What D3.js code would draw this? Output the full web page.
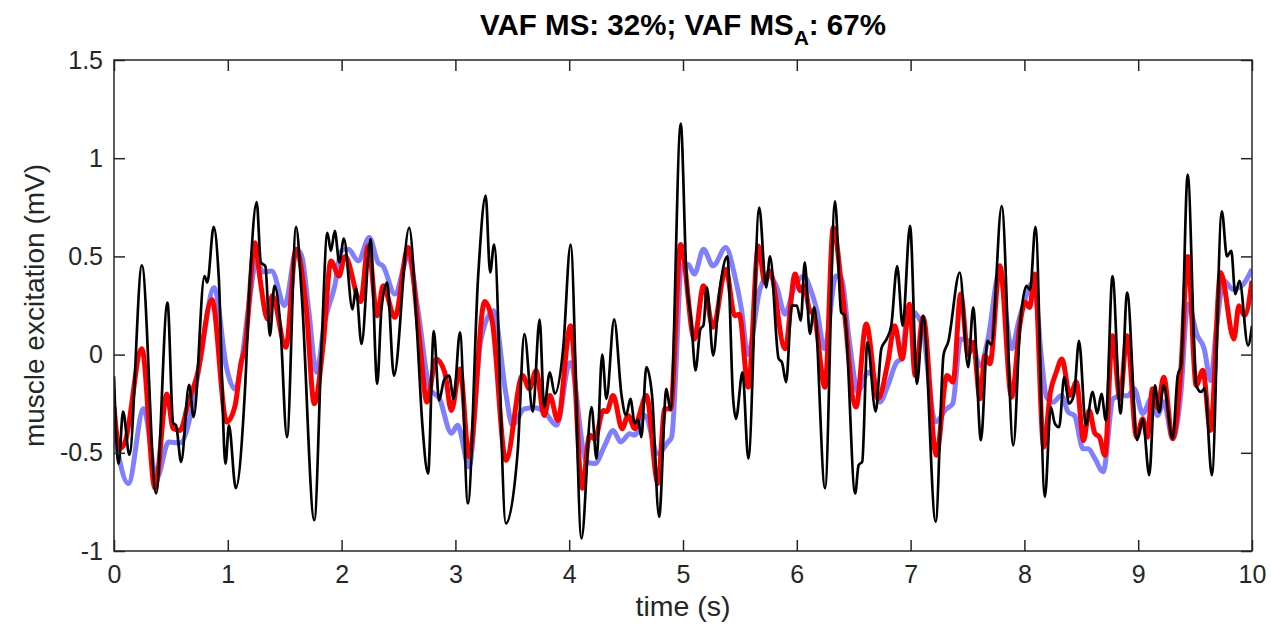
<!DOCTYPE html>
<html>
<head>
<meta charset="utf-8">
<script src="https://d3js.org/d3.v7.min.js"></script>
<style>
  body { margin: 0; background: white; }
  text { font-family: "Liberation Sans", Arial, Helvetica, sans-serif; fill: #262626; }
  .axis path, .axis line { stroke: #262626; stroke-width: 1.5; }
</style>
</head>
<body>
<script>
// tick labels
var xTicks = [0, 1, 2, 3, 4, 5, 6, 7, 8, 9, 10];
var yTicks = [-1, -0.5, 0, 0.5, 1, 1.5];
var yTickLabels = ["-1", "-0.5", "0", "0.5", "1", "1.5"];

// model MS (blue), [time s, excitation mV]
var ms = [[0, -0.394], [0.126, -0.656], [0.26, -0.276], [0.375, -0.63], [0.48, -0.445], [0.58, -0.45],
  [0.685, -0.276], [0.76, -0.02], [0.88, 0.34], [0.99, -0.07], [1.064, -0.175], [1.12, -0.04],
  [1.18, 0.23], [1.254, 0.477], [1.31, 0.42], [1.386, 0.426], [1.5, 0.25], [1.605, 0.536],
  [1.65, 0.5], [1.71, 0.23], [1.78, -0.09], [1.85, 0.164], [1.94, 0.35], [2.0, 0.53], [2.06, 0.536],
  [2.146, 0.477], [2.243, 0.596], [2.32, 0.469], [2.365, 0.45], [2.468, 0.308], [2.585, 0.5],
  [2.67, 0.23], [2.775, -0.174], [2.86, -0.225], [2.965, -0.4], [3.02, -0.36], [3.12, -0.572],
  [3.22, 0.063], [3.334, 0.223], [3.444, -0.2], [3.5, -0.36], [3.606, -0.276], [3.69, -0.27],
  [3.78, -0.29], [3.89, -0.36], [4.006, -0.04], [4.152, -0.546], [4.225, -0.555], [4.313, -0.462],
  [4.386, -0.386], [4.453, -0.445], [4.532, -0.403], [4.576, -0.41], [4.664, -0.31], [4.78, -0.504],
  [4.868, -0.445], [4.9, -0.42], [4.99, 0.45], [5.044, 0.46], [5.1, 0.41], [5.18, 0.536], [5.264, 0.452],
  [5.376, 0.545], [5.455, 0.4], [5.514, 0.23], [5.57, 0.0], [5.676, 0.333], [5.75, 0.4], [5.82, 0.35],
  [5.897, 0.206], [5.97, 0.33], [6.06, 0.4], [6.12, 0.333], [6.18, 0.215], [6.243, 0.03], [6.345, 0.4],
  [6.39, 0.39], [6.463, 0.063], [6.537, -0.19], [6.625, -0.09], [6.67, -0.11], [6.73, -0.242],
  [6.8, -0.157], [6.876, -0.04], [6.92, -0.02], [6.98, 0.23], [7.094, 0.164], [7.218, -0.343],
  [7.315, -0.276], [7.37, -0.25], [7.44, 0.08], [7.535, 0.063], [7.61, -0.056], [7.68, 0.08],
  [7.78, 0.418], [7.89, 0.03], [7.947, 0.164], [8.006, 0.28], [8.06, 0.36], [8.1, 0.3], [8.15, -0.02],
  [8.194, -0.217], [8.25, -0.242], [8.326, -0.208], [8.385, -0.293], [8.44, -0.31], [8.516, -0.48],
  [8.56, -0.48], [8.62, -0.53], [8.692, -0.597], [8.78, -0.225], [8.85, -0.21], [8.91, -0.21],
  [8.965, -0.174], [9.04, -0.3], [9.12, -0.22], [9.17, -0.31], [9.224, -0.24], [9.303, -0.428],
  [9.376, -0.19], [9.435, 0.257], [9.52, 0.096], [9.58, 0.03], [9.635, -0.132], [9.69, 0.15],
  [9.753, 0.376], [9.832, 0.333], [9.91, 0.35], [10, 0.435]];

// model MS_A (red)
var msA = [[0, -0.267], [0.05, -0.48], [0.097, -0.445], [0.245, 0.03], [0.36, -0.68], [0.465, -0.2],
  [0.52, -0.377], [0.58, -0.386], [0.655, -0.24], [0.73, -0.107], [0.86, 0.28], [0.99, -0.343],
  [1.064, -0.26], [1.117, -0.04], [1.15, 0.03], [1.24, 0.57], [1.28, 0.4], [1.35, 0.18], [1.39, 0.3],
  [1.51, 0.037], [1.6, 0.536], [1.69, 0.23], [1.76, -0.25], [1.84, 0.063], [1.906, 0.477],
  [1.977, 0.4], [2.03, 0.5], [2.167, 0.27], [2.234, 0.553], [2.313, 0.198], [2.365, 0.35],
  [2.468, 0.19], [2.585, 0.545], [2.687, 0.063], [2.75, -0.242], [2.83, -0.022], [2.906, -0.09],
  [2.965, -0.284], [3.04, -0.073], [3.12, -0.52], [3.257, 0.27], [3.325, 0.164], [3.444, -0.538],
  [3.59, -0.107], [3.65, -0.174], [3.71, -0.081], [3.78, -0.31], [3.83, -0.208], [3.9, -0.335],
  [4.012, 0.147], [4.114, -0.68], [4.18, -0.41], [4.225, -0.43], [4.3, -0.284], [4.33, -0.29],
  [4.386, -0.208], [4.465, -0.377], [4.518, -0.31], [4.576, -0.377], [4.62, -0.3], [4.678, -0.208],
  [4.78, -0.656], [4.84, -0.276], [4.89, -0.276], [4.98, 0.56], [5.1, 0.08], [5.18, 0.35],
  [5.265, 0.139], [5.376, 0.435], [5.455, 0.198], [5.494, 0.206], [5.574, -0.166], [5.662, 0.553],
  [5.72, 0.367], [5.76, 0.426], [5.897, 0.03], [5.985, 0.41], [6.03, 0.325], [6.065, 0.35],
  [6.11, 0.23], [6.153, 0.2], [6.248, -0.166], [6.32, 0.646], [6.4, 0.316], [6.52, -0.267],
  [6.61, 0.156], [6.714, -0.225], [6.8, -0.04], [6.86, 0.147], [6.926, -0.022], [6.99, 0.257],
  [7.04, -0.107], [7.11, 0.19], [7.226, -0.513], [7.32, -0.107], [7.373, -0.14], [7.44, 0.308],
  [7.506, 0.0], [7.55, 0.063], [7.61, -0.225], [7.653, -0.005], [7.697, -0.047], [7.785, 0.452],
  [7.888, -0.217], [7.962, 0.16], [8.006, 0.266], [8.047, 0.24], [8.09, 0.41], [8.17, -0.47],
  [8.229, -0.19], [8.28, -0.09], [8.33, -0.022], [8.4, -0.208], [8.457, -0.14], [8.52, -0.437],
  [8.569, -0.284], [8.619, -0.4], [8.66, -0.42], [8.707, -0.513], [8.774, 0.096], [8.839, -0.225],
  [8.903, 0.096], [8.985, -0.42], [9.04, -0.327], [9.08, -0.42], [9.126, -0.174], [9.17, -0.27],
  [9.224, -0.115], [9.303, -0.428], [9.376, -0.07], [9.435, 0.5], [9.51, -0.157], [9.568, -0.08],
  [9.635, -0.386], [9.724, 0.418], [9.841, 0.08], [9.885, 0.249], [9.935, 0.198], [10, 0.376]];

// measured excitation (black)
var emg = [[0, -0.11], [0.04, -0.555], [0.08, -0.29], [0.135, -0.51], [0.245, 0.455], [0.37, -0.707],
  [0.47, 0.265], [0.52, -0.35], [0.545, -0.36], [0.59, -0.547], [0.66, -0.154], [0.7, -0.318],
  [0.795, 0.4], [0.82, 0.367], [0.876, 0.65], [0.92, 0.4], [0.98, -0.555], [1.01, -0.36],
  [1.07, -0.68], [1.15, -0.19], [1.196, 0.4], [1.254, 0.777], [1.29, 0.47], [1.33, 0.45],
  [1.37, 0.096], [1.41, 0.35], [1.46, 0.164], [1.52, -0.42], [1.6, 0.65], [1.65, 0.3],
  [1.76, -0.843], [1.825, 0.06], [1.875, 0.62], [1.906, 0.528], [1.94, 0.63], [1.98, 0.47],
  [2.02, 0.59], [2.096, 0.23], [2.126, 0.34], [2.175, 0.054], [2.254, 0.587], [2.313, -0.149],
  [2.35, 0.23], [2.4, 0.367], [2.46, -0.107], [2.594, 0.646], [2.66, 0.147], [2.71, -0.36],
  [2.76, -0.606], [2.81, 0.12], [2.857, -0.233], [2.9, -0.13], [2.944, -0.107], [2.985, -0.225],
  [3.04, 0.113], [3.11, -0.758], [3.2, 0.4], [3.266, 0.81], [3.305, 0.418], [3.34, 0.56],
  [3.444, -0.86], [3.547, -0.496], [3.606, 0.105], [3.68, -0.29], [3.74, 0.178], [3.78, -0.267],
  [3.83, -0.09], [3.873, -0.2], [3.947, 0.03], [4.012, 0.56], [4.108, -0.936], [4.196, -0.267],
  [4.24, -0.53], [4.29, 0.0], [4.327, -0.225], [4.395, 0.18], [4.46, -0.208], [4.5, -0.31],
  [4.538, -0.225], [4.576, -0.35], [4.605, -0.33], [4.634, -0.42], [4.678, -0.064], [4.728, -0.208],
  [4.79, -0.826], [4.854, -0.174], [4.89, -0.284], [4.98, 1.176], [5.03, 0.4], [5.074, 0.164],
  [5.11, -0.08], [5.153, 0.13], [5.18, 0.15], [5.21, 0.342], [5.265, -0.005], [5.32, 0.316],
  [5.39, 0.5], [5.44, -0.22], [5.465, -0.327], [5.523, -0.09], [5.574, -0.53], [5.67, 0.748],
  [5.73, 0.342], [5.765, 0.5], [5.84, -0.02], [5.87, -0.04], [5.906, -0.14], [5.956, 0.249],
  [6.0, 0.25], [6.035, 0.173], [6.07, 0.47], [6.115, 0.105], [6.153, 0.24], [6.248, -0.68],
  [6.336, 0.78], [6.39, 0.215], [6.42, 0.2], [6.513, -0.707], [6.543, -0.563], [6.575, -0.545],
  [6.62, 0.063], [6.693, -0.29], [6.743, 0.03], [6.79, 0.08], [6.83, 0.147], [6.882, 0.45],
  [6.93, 0.147], [6.995, 0.655], [7.056, -0.149], [7.11, 0.198], [7.22, -0.85], [7.29, 0.0],
  [7.33, 0.063], [7.432, 0.418], [7.506, -0.064], [7.55, 0.24], [7.618, -0.436], [7.676, 0.07],
  [7.71, 0.05], [7.8, 0.756], [7.903, -0.462], [7.962, 0.147], [8.018, 0.35], [8.05, 0.33],
  [8.097, 0.65], [8.18, -0.724], [8.232, -0.267], [8.267, -0.35], [8.305, -0.37], [8.35, -0.115],
  [8.393, -0.25], [8.437, -0.2], [8.48, 0.07], [8.54, -0.36], [8.6, -0.19], [8.64, -0.3],
  [8.677, -0.2], [8.716, -0.335], [8.774, 0.4], [8.845, -0.3], [8.903, 0.316], [8.99, -0.435],
  [9.04, -0.327], [9.097, -0.614], [9.147, -0.157], [9.185, -0.293], [9.224, -0.157], [9.303, -0.428],
  [9.347, -0.107], [9.376, -0.056], [9.435, 0.917], [9.51, -0.157], [9.553, -0.19], [9.585, -0.17],
  [9.647, -0.614], [9.735, 0.73], [9.78, 0.5], [9.818, 0.528], [9.853, 0.308], [9.89, 0.376],
  [9.965, 0.046], [10, 0.147]];

window.onload = function() {
  var w = 1271;
  var h = 629;
  var margin = {top: 60, right: 19, bottom: 78, left: 114};
  var tick = 11;

  var svg = d3.select("body")
              .append("svg")
              .attr("width", w)
              .attr("height", h);

  var xScale = d3.scaleLinear()
                 .domain([0, 10])
                 .range([margin.left, w - margin.right]);

  var yScale = d3.scaleLinear()
                 .domain([-1, 1.5])
                 .range([h - margin.bottom, margin.top]);

  svg.append("clipPath")
     .attr("id", "plotclip")
     .append("rect")
     .attr("x", margin.left)
     .attr("y", margin.top)
     .attr("width", xScale(10) - xScale(0))
     .attr("height", yScale(-1) - yScale(1.5));

  var line = d3.line()
               .x(function(d) { return xScale(d[0]); })
               .y(function(d) { return yScale(d[1]); })
               .curve(d3.curveMonotoneX);

  var lines = svg.append("g").attr("clip-path", "url(#plotclip)");

  // blue, red, then black on top
  lines.append("path")
       .datum(ms)
       .attr("d", line)
       .style("fill", "none")
       .style("stroke", "#7f7fff")
       .style("stroke-width", 5)
       .style("stroke-linejoin", "round");

  lines.append("path")
       .datum(msA)
       .attr("d", line)
       .style("fill", "none")
       .style("stroke", "#ff0000")
       .style("stroke-width", 5)
       .style("stroke-linejoin", "round");

  lines.append("path")
       .datum(emg)
       .attr("d", line)
       .style("fill", "none")
       .style("stroke", "#000000")
       .style("stroke-width", 2.7)
       .style("stroke-linejoin", "round");

  // axes, ticks pointing inwards like matlab
  var x0 = yScale(-1), x1 = yScale(1.5);
  var y0 = xScale(0), y1 = xScale(10);

  svg.append("g")
     .attr("class", "axis")
     .attr("transform", "translate(0," + x0 + ")")
     .call(d3.axisBottom(xScale).tickValues(xTicks).tickSizeInner(-tick).tickSizeOuter(0).tickPadding(14))
     .selectAll("text")
     .style("font-size", "25px");

  svg.append("g")
     .attr("class", "axis")
     .attr("transform", "translate(0," + x1 + ")")
     .call(d3.axisTop(xScale).tickValues(xTicks).tickSizeInner(-tick).tickSizeOuter(0).tickFormat(""));

  svg.append("g")
     .attr("class", "axis")
     .attr("transform", "translate(" + y0 + ",0)")
     .call(d3.axisLeft(yScale).tickValues(yTicks).tickSizeInner(-tick).tickSizeOuter(0).tickPadding(11)
       .tickFormat(function(d, i) { return yTickLabels[i]; }))
     .selectAll("text")
     .style("font-size", "25px");

  svg.append("g")
     .attr("class", "axis")
     .attr("transform", "translate(" + y1 + ",0)")
     .call(d3.axisRight(yScale).tickValues(yTicks).tickSizeInner(-tick).tickSizeOuter(0).tickFormat(""));

  svg.selectAll(".axis .domain").remove();

  svg.append("rect")
     .attr("x", y0)
     .attr("y", x1)
     .attr("width", y1 - y0)
     .attr("height", x0 - x1)
     .style("fill", "none")
     .style("stroke", "#262626")
     .style("stroke-width", 1.5);

  // labels
  svg.append("text")
     .attr("x", (y0 + y1) / 2)
     .attr("y", 616)
     .style("text-anchor", "middle")
     .style("font-size", "28.5px")
     .text("time (s)");

  svg.append("text")
     .attr("transform", "translate(44," + ((x0 + x1) / 2) + ") rotate(-90)")
     .style("text-anchor", "middle")
     .style("font-size", "28px")
     .text("muscle excitation (mV)");

  var title = svg.append("text")
                 .attr("x", (y0 + y1) / 2)
                 .attr("y", 35)
                 .style("text-anchor", "middle")
                 .style("font-size", "29.5px")
                 .style("font-weight", "bold")
                 .style("fill", "#000");
  title.append("tspan").text("VAF MS: 32%; VAF MS");
  title.append("tspan").attr("dy", 10).style("font-size", "21px").text("A");
  title.append("tspan").attr("dy", -10).text(": 67%");
}
</script>
</body>
</html>
